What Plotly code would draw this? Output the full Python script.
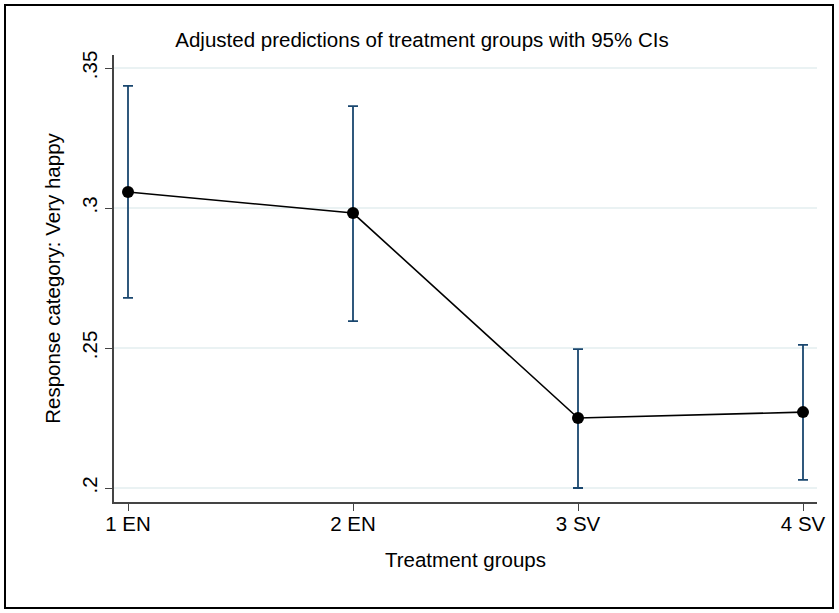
import plotly.graph_objects as go

categories = ["1 EN", "2 EN", "3 SV", "4 SV"]
x_pos = [1, 2, 3, 4]
estimates = [0.3057, 0.2982, 0.2250, 0.2271]
ci_upper = [0.3436, 0.3364, 0.2496, 0.2511]
ci_lower = [0.2679, 0.2596, 0.2000, 0.2029]
y_ticks = [0.2, 0.25, 0.3, 0.35]
y_tick_labels = [".2", ".25", ".3", ".35"]

W, H = 839, 613
L, R, T, B = 114, 817, 55, 502
FS = 20.5

fig = go.Figure()
fig.add_trace(go.Scatter(
    x=x_pos, y=estimates, mode="markers",
    marker=dict(color="rgba(0,0,0,0)", size=1),
    error_y=dict(type="data", symmetric=False,
                 array=[u - e for u, e in zip(ci_upper, estimates)],
                 arrayminus=[e - l for e, l in zip(estimates, ci_lower)],
                 color="#1a476f", thickness=1.8, width=5),
    showlegend=False, hoverinfo="skip"))
fig.add_trace(go.Scatter(
    x=x_pos, y=estimates, mode="lines+markers",
    line=dict(color="black", width=1.6),
    marker=dict(color="black", size=12),
    showlegend=False))

def px_x(p):
    return (p - L) / (R - L)

def px_y(p):
    return (B - p) / (B - T)

fig.add_shape(type="rect", xref="paper", yref="paper",
              x0=px_x(5), x1=px_x(833), y0=px_y(608), y1=px_y(5),
              line=dict(color="black", width=2), layer="below")

fig.update_layout(
    width=W, height=H,
    margin=dict(l=L, r=W - R, t=T, b=H - B),
    paper_bgcolor="white", plot_bgcolor="white",
    font=dict(family="Liberation Sans, Arial, sans-serif", size=FS, color="black"),
    title=dict(text="Adjusted predictions of treatment groups with 95% CIs",
               x=px_x(422), xref="paper", xanchor="center",
               y=1 - 40 / H, yanchor="middle",
               font=dict(size=FS)),
    xaxis=dict(range=[1 - 14 / 225, 4 + 14 / 225],
               tickvals=x_pos, ticktext=categories,
               showgrid=False, zeroline=False,
               showline=True, linecolor="#444", linewidth=1.5,
               ticks="outside", ticklen=7, tickcolor="#444",
               tickfont=dict(size=FS), ticklabelstandoff=-4,
               title=dict(text="Treatment groups", font=dict(size=FS), standoff=18)),
    yaxis=dict(range=[0.2 - 14 / 2800, 0.35 + 13 / 2800],
               tickvals=y_ticks, ticktext=y_tick_labels, tickangle=-90,
               showgrid=True, gridcolor="#eaf2f3", gridwidth=1.5,
               zeroline=False,
               showline=True, linecolor="#444", linewidth=1.5,
               ticks="outside", ticklen=7, tickcolor="#444",
               tickfont=dict(size=FS),
               title=dict(text="Response category: Very happy", font=dict(size=FS), standoff=12)),
)

fig.write_html("out.html", config={"displayModeBar": False},
               post_script="document.body.style.margin='0';")
